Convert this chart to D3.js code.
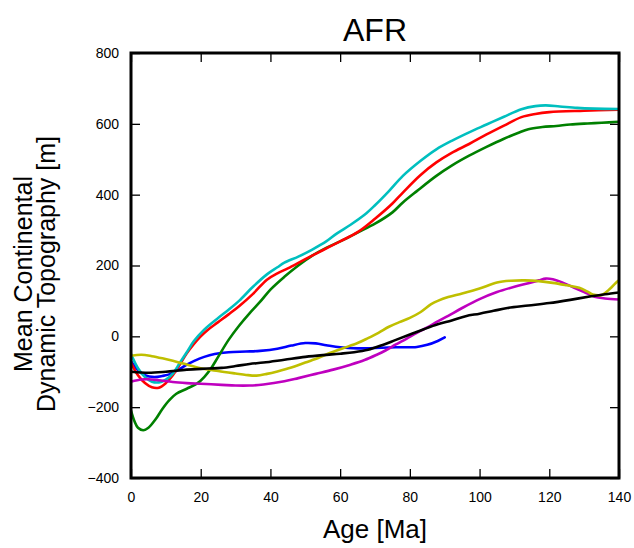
<!DOCTYPE html>
<html>
<head>
<meta charset="utf-8">
<script src="https://cdn.jsdelivr.net/npm/d3@7"></script>
<style>
  html, body { margin: 0; padding: 0; background: #fff; }
  text { font-family: "Liberation Sans", Arial, Helvetica, sans-serif; fill: #000; }
</style>
</head>
<body>
<script>
// ---- Data ----
const title = "AFR";
const xLabel = "Age [Ma]";
const yLabelLines = ["Mean Continental", "Dynamic Topography [m]"];
const xTicks = [0, 20, 40, 60, 80, 100, 120, 140];
const yTicks = [-400, -200, 0, 200, 400, 600, 800];

const blueAges = [0, 2, 4, 6.7, 9, 11.4, 14, 16, 18, 21, 24, 28, 33, 37, 42, 46, 50, 53, 56, 60, 65, 70, 76, 82, 85, 88, 90];
const blueVals = [-70, -95, -110, -115, -112, -106, -92, -80, -70, -58, -50, -45, -43, -41, -35, -26, -19, -20, -25, -31, -34, -33, -31, -30, -24, -13, -3];

const greenAges = [0, 1, 2, 3.5, 5, 7, 9, 11, 13, 16, 19, 21, 23, 25, 28, 31, 34, 37, 40, 44, 48, 52, 56, 60, 65, 70, 75, 78, 82, 87.6, 92, 97, 102, 107, 111, 114, 118, 122, 126, 131, 135, 140];
const greenVals = [-210, -240, -258, -265, -258, -235, -205, -180, -162, -148, -133, -115, -90, -58, -10, 30, 65, 97, 132, 168, 200, 228, 250, 268, 293, 318, 350, 378, 410, 453, 482, 510, 535, 558, 574, 585, 591, 594, 598, 601, 603, 606];

const redAges = [0, 2, 4, 6, 8, 10, 12, 14, 16, 18, 20, 22, 25, 28, 31, 35, 39, 42, 45, 50, 55, 60, 65, 70, 75, 78, 83, 87.6, 92, 97, 102, 107, 112, 116, 120, 130, 140];
const redVals = [-75, -110, -132, -144, -145, -132, -110, -80, -48, -22, 0, 18, 40, 62, 85, 120, 160, 178, 192, 218, 243, 268, 294, 332, 375, 406, 455, 491, 518, 543, 570, 595, 619, 628, 633, 637, 640];

const cyanAges = [0, 2, 4, 6, 8, 10, 12, 14, 16, 18, 21, 25, 28, 31, 35, 39, 42, 44, 48, 52, 56, 59, 63, 67, 70, 74, 78, 83, 87.6, 92, 97, 102, 107, 112, 116, 119, 123, 128, 133, 140];
const cyanVals = [-50, -90, -115, -128, -130, -122, -105, -75, -45, -14, 19, 52, 75, 100, 140, 175, 195, 208, 225, 245, 268, 290, 315, 343, 370, 410, 453, 495, 528, 552, 576, 598, 620, 641, 650, 652, 649, 645, 643, 642];

const magentaAges = [0, 3, 5, 8, 12, 16, 20, 26, 30, 34, 38, 44, 48, 53, 58, 63, 67, 70.5, 73, 76, 79, 82, 85, 88, 91, 95, 100, 105, 110, 114, 117, 119, 121, 124, 127, 130, 133, 136, 140];
const magentaVals = [-128, -122, -121, -124, -129, -132, -134, -137, -139, -139, -136, -127, -118, -106, -94, -80, -67, -52, -40, -23, -7, 10, 25, 42, 58, 80, 105, 125, 140, 150, 158, 163, 161, 151, 138, 125, 112, 107, 104];

const yellowAges = [0, 3, 6, 9, 12, 15, 20, 25, 30, 33, 36, 39, 42, 46, 50, 54, 57, 61, 65, 68, 71, 74, 77, 80, 83, 86, 88, 91, 95, 100, 105, 109, 113, 117, 121, 125, 128.6, 131, 132.5, 135, 137.5, 139, 140];
const yellowVals = [-55, -52, -56, -62, -69, -77, -90, -98, -105, -109, -111, -106, -99, -88, -74, -60, -47, -33, -19, -5, 10, 27, 40, 52, 68, 90, 100, 111, 121, 135, 152, 157, 158, 156, 151, 144, 137, 126, 118, 117, 135, 150, 158];

const blackAges = [0, 5, 10, 16, 22, 26, 30, 34, 38, 44, 50, 55, 60, 64, 68, 72, 76, 80, 84, 88, 92, 96, 100, 104, 108, 114, 120, 126, 132, 136, 140];
const blackVals = [-100, -103, -100, -94, -91, -89, -84, -78, -74, -66, -58, -53, -49, -45, -38, -25, -10, 5, 20, 34, 45, 57, 64, 72, 80, 87, 94, 103, 113, 119, 124];

const seriesNames = ["blue", "green", "red", "cyan", "magenta", "yellow", "black"];
const seriesColors = ["#0000ff", "#008000", "#ff0000", "#00bfbf", "#bf00bf", "#bfbf00", "#000000"];
const seriesAges = [blueAges, greenAges, redAges, cyanAges, magentaAges, yellowAges, blackAges];
const seriesVals = [blueVals, greenVals, redVals, cyanVals, magentaVals, yellowVals, blackVals];

// ---- Layout ----
(function () {
const W = 634, H = 548;
const mL = 131, mR = 619, mT = 53, mB = 478;

const svg = d3.select("body").append("svg").attr("width", W).attr("height", H);

const x = d3.scaleLinear().domain([0, 140]).range([mL, mR]);
const y = d3.scaleLinear().domain([-400, 800]).range([mB, mT]);

svg.append("defs").append("clipPath").attr("id", "clip")
  .append("rect").attr("x", mL).attr("y", mT).attr("width", mR - mL).attr("height", mB - mT);

// Lines
const line = d3.line().x(d => x(d[0])).y(d => y(d[1])).curve(d3.curveCatmullRom.alpha(0.5));
const g = svg.append("g").attr("clip-path", "url(#clip)");
seriesNames.forEach((name, i) => {
  const pts = seriesAges[i].map((a, j) => [a, seriesVals[i][j]]);
  g.append("path").datum(pts)
    .attr("d", line)
    .attr("fill", "none")
    .attr("stroke", seriesColors[i])
    .attr("stroke-width", 2.6)
    .attr("stroke-linejoin", "round")
    .attr("stroke-linecap", "round");
});

// Axes (ticks inward, all four sides)
const tickLen = 9;
const fmt = d => (d < 0 ? "\u2212" + Math.abs(d) : String(d));
const axB = d3.axisBottom(x).tickValues(xTicks).tickSizeInner(-tickLen).tickSizeOuter(0).tickPadding(14).tickFormat(fmt);
const axT = d3.axisTop(x).tickValues(xTicks).tickSizeInner(-tickLen).tickSizeOuter(0).tickFormat("");
const axL = d3.axisLeft(y).tickValues(yTicks).tickSizeInner(-tickLen).tickSizeOuter(0).tickPadding(12).tickFormat(fmt);
const axR = d3.axisRight(y).tickValues(yTicks).tickSizeInner(-tickLen).tickSizeOuter(0).tickFormat("");

function styleAxis(sel) {
  sel.select(".domain").remove();
  sel.selectAll(".tick line").attr("stroke", "#000").attr("stroke-width", 1.3);
  sel.selectAll(".tick text").style("font-family", "'Liberation Sans', Arial, sans-serif").style("font-size", "14px").attr("fill", "#000");
}
svg.append("g").attr("transform", `translate(0,${mB})`).call(axB).call(styleAxis);
svg.append("g").attr("transform", `translate(0,${mT})`).call(axT).call(styleAxis);
svg.append("g").attr("transform", `translate(${mL},0)`).call(axL).call(styleAxis);
svg.append("g").attr("transform", `translate(${mR},0)`).call(axR).call(styleAxis);

// Frame
svg.append("rect").attr("x", mL).attr("y", mT).attr("width", mR - mL).attr("height", mB - mT)
  .attr("fill", "none").attr("stroke", "#000").attr("stroke-width", 3);

// Title & labels
svg.append("text").attr("x", (mL + mR) / 2).attr("y", 41).attr("text-anchor", "middle")
  .style("font-size", "32px").text(title);
svg.append("text").attr("x", (mL + mR) / 2).attr("y", 538).attr("text-anchor", "middle")
  .style("font-size", "26px").text(xLabel);
const yLabelX = [32, 55];
yLabelLines.forEach((t, i) => {
  svg.append("text").attr("transform", `translate(${yLabelX[i]},274) rotate(-90)`)
    .attr("text-anchor", "middle").style("font-size", "25px").text(t);
});
})();
</script>
</body>
</html>
